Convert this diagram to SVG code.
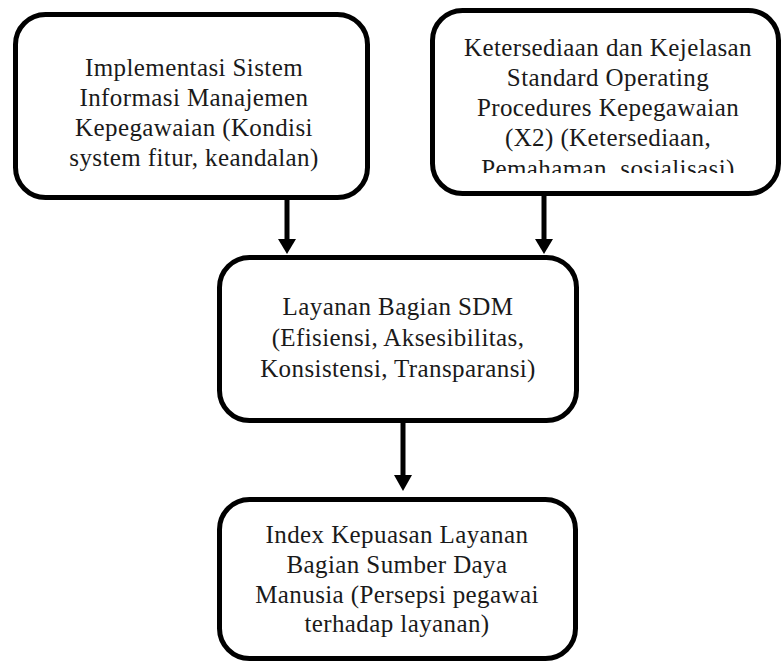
<svg xmlns="http://www.w3.org/2000/svg" width="781" height="662" viewBox="0 0 781 662">
<style>
.box{fill:#fff;stroke:#000;stroke-width:5}
.t{font-family:"Liberation Serif","DejaVu Serif",serif;font-size:25px;letter-spacing:0.4px;fill:#1a1a1a;text-anchor:middle}
.ln{stroke:#000;stroke-width:5;fill:none}
.hd{fill:#000}
</style>
<defs>
<clipPath id="c2"><rect x="430" y="0" width="351" height="173"/></clipPath>
</defs>
<rect width="781" height="662" fill="#fff"/>
<g id="n1">
<rect class="box" x="15.5" y="14.5" width="352" height="183" rx="30"/>
<text class="t" x="194" y="76">Implementasi Sistem</text>
<text class="t" x="194" y="106">Informasi Manajemen</text>
<text class="t" x="194" y="136">Kepegawaian (Kondisi</text>
<text class="t" x="194" y="166">system fitur, keandalan)</text>
</g>
<g id="n2">
<rect class="box" x="432.5" y="10.5" width="346" height="183" rx="30"/>
<g clip-path="url(#c2)">
<text class="t" x="608" y="56">Ketersediaan dan Kejelasan</text>
<text class="t" x="608" y="86">Standard Operating</text>
<text class="t" x="608" y="116">Procedures Kepegawaian</text>
<text class="t" x="608" y="146">(X2) (Ketersediaan,</text>
<text class="t" x="608" y="177">Pemahaman, sosialisasi)</text>
</g>
</g>
<g id="n3">
<rect class="box" x="219.5" y="257.5" width="357" height="163" rx="30"/>
<text class="t" x="398" y="315">Layanan Bagian SDM</text>
<text class="t" x="398" y="346">(Efisiensi, Aksesibilitas,</text>
<text class="t" x="398" y="377">Konsistensi, Transparansi)</text>
</g>
<g id="n4">
<rect class="box" x="219.5" y="499.5" width="356" height="159" rx="30"/>
<text class="t" x="397" y="543">Index Kepuasan Layanan</text>
<text class="t" x="397" y="573">Bagian Sumber Daya</text>
<text class="t" x="397" y="603">Manusia (Persepsi pegawai</text>
<text class="t" x="397" y="632">terhadap layanan)</text>
</g>
<g id="connectors">
<line class="ln" x1="287" y1="199" x2="287" y2="241"/>
<polygon class="hd" points="278,239 296,239 287,254"/>
<line class="ln" x1="544" y1="195" x2="544" y2="241"/>
<polygon class="hd" points="535,239 553,239 544,254"/>
<line class="ln" x1="403" y1="422" x2="403" y2="477"/>
<polygon class="hd" points="394,475 412,475 403,491"/>
</g>
</svg>
